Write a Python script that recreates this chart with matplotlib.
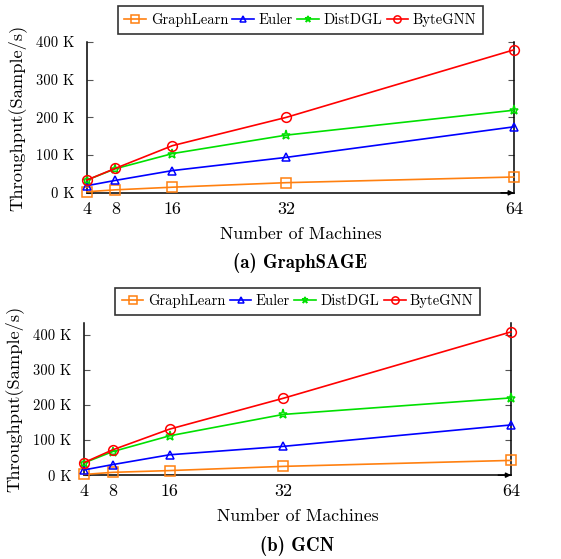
import matplotlib
matplotlib.use("Agg")
import matplotlib.pyplot as plt

plt.rcParams["font.family"] = ["cmr10", "DejaVu Serif"]
plt.rcParams["axes.formatter.use_mathtext"] = True
plt.rcParams["mathtext.fontset"] = "cm"

machines = [4, 8, 16, 32, 64]
systems = ["GraphLearn", "Euler", "DistDGL", "ByteGNN"]

# throughput in thousands of samples/s
sage_graphlearn = [3, 8, 15, 27, 42]
sage_euler = [19, 33, 59, 94, 175]
sage_distdgl = [34, 64, 104, 153, 219]
sage_bytegnn = [34, 65, 125, 200, 379]

gcn_graphlearn = [2, 8, 13, 25, 42]
gcn_euler = [15, 30, 58, 82, 143]
gcn_distdgl = [35, 67, 112, 173, 220]
gcn_bytegnn = [36, 72, 131, 219, 408]

yticks = [0, 100, 200, 300, 400]
ytick_labels = ["0 K", "100 K", "200 K", "300 K", "400 K"]

colors = ["#ff8010", "#0000ff", "#00e000", "#ff0000"]
markers = ["s", "^", "*", "o"]
msizes = [7, 6, 6.5, 7]

fig = plt.figure(figsize=(5.61, 5.59), dpi=100)


def draw(rect, series, ymax, caption):
    ax = fig.add_axes(rect)
    for name, vals, c, m, ms in zip(systems, series, colors, markers, msizes):
        ax.plot(machines, vals, color=c, marker=m, markerfacecolor="none",
                markeredgecolor=c, markersize=ms,
                markeredgewidth=1.1, lw=1.2, label=name, clip_on=False,
                zorder=3)
    ax.set_xlim(4, 64)
    ax.set_ylim(0, ymax)
    ax.set_xticks(machines)
    ax.set_xticklabels([str(m) for m in machines], fontsize=13)
    ax.set_yticks(yticks)
    ax.set_yticklabels(ytick_labels, fontsize=10.5)
    ax.spines["top"].set_visible(False)
    for s in ["left", "right", "bottom"]:
        ax.spines[s].set_linewidth(1.1)
    ax.tick_params(axis="y", direction="in", length=4, left=True, right=True,
                   pad=9, color="#555555")
    ax.tick_params(axis="x", direction="in", length=0, pad=6)
    # arrow at the end of the x axis line
    ax.annotate("", xy=(1.0, 0), xytext=(0.97, 0), xycoords="axes fraction",
                arrowprops=dict(arrowstyle="-|>", color="black", lw=1.1,
                                mutation_scale=7, shrinkA=0, shrinkB=0),
                annotation_clip=False)
    ax.set_xlabel("Number of Machines", fontsize=12.8, labelpad=7)
    ax.set_ylabel("Throughput(Sample/s)", fontsize=13.3)
    ax.yaxis.set_label_coords(-0.143, 0.5)
    leg = ax.legend(loc="lower center", bbox_to_anchor=(0.5, 1.055), ncol=4,
                    frameon=True, fancybox=False, edgecolor="black",
                    fontsize=10.5, handlelength=1.5, handletextpad=0.3,
                    columnspacing=0.3, borderpad=0.45, markerscale=0.75,
                    borderaxespad=0)
    leg.get_frame().set_linewidth(1.2)
    ax.text(0.5, -0.465, caption, transform=ax.transAxes, ha="center",
            va="center", fontsize=13.5, family=["cmb10", "DejaVu Serif"])
    return ax


draw([0.155, 0.655, 0.761, 0.270],
     [sage_graphlearn, sage_euler, sage_distdgl, sage_bytegnn], 400,
     "(a) GraphSAGE")
draw([0.150, 0.150, 0.761, 0.272],
     [gcn_graphlearn, gcn_euler, gcn_distdgl, gcn_bytegnn], 433,
     "(b) GCN")

fig.savefig("out.png", dpi=100)
